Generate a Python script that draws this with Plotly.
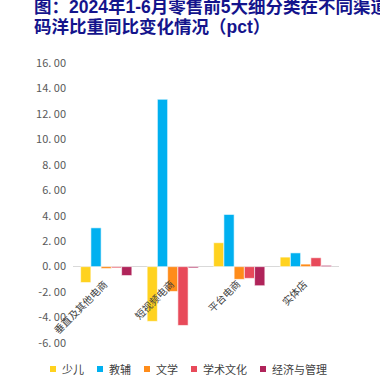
import plotly.graph_objects as go

categories = ["垂直及其他电商", "短视频电商", "平台电商", "实体店"]
series_names = ["少儿", "教辅", "文学", "学术文化", "经济与管理"]
series_colors = ["#FFD21F", "#00B0F0", "#FF8C1A", "#E84A5A", "#B0245A"]
values_shaoer = [-1.25, -4.30, 1.88, 0.75]
values_jiaofu = [3.05, 13.15, 4.10, 1.08]
values_wenxue = [-0.15, -1.95, -1.00, 0.20]
values_xueshu = [-0.10, -4.62, -0.92, 0.70]
values_jingji = [-0.70, -0.10, -1.50, 0.10]
series_values = [values_shaoer, values_jiaofu, values_wenxue, values_xueshu, values_jingji]
y_ticks = [16, 14, 12, 10, 8, 6, 4, 2, 0, -2, -4, -6]
title_lines = ["图：2024年1-6月零售前5大细分类在不同渠道", "码洋比重同比变化情况（pct）"]

W, H = 380, 384
L, R, T, B = 73, 41, 63, 41
PW, PH = W - L - R, H - T - B

fig = go.Figure()
for name, color, vals in zip(series_names, series_colors, series_values):
    fig.add_trace(go.Bar(
        x=categories, y=vals, name=name,
        marker=dict(color=color, line=dict(width=0.6, color="white")),
        showlegend=False,
    ))

def px_x(px):
    return (px - L) / PW

def px_y(py):
    return 1 - (py - T) / PH

annotations = []
shapes = []
# category labels next to the zero line
for c in categories:
    annotations.append(dict(
        x=c, y=0, xref="x", yref="y", text=c, showarrow=False,
        textangle=-45, xanchor="right", yanchor="top", xshift=7, yshift=-7,
        font=dict(family="Noto Sans CJK SC", size=10, color="#404040"),
    ))

# title
title_font = dict(family="Liberation Sans, Noto Sans CJK SC", size=17.5, color="#14148C")
annotations.append(dict(x=px_x(32), y=px_y(7), xref="paper", yref="paper",
                        text="<b>" + title_lines[0] + "</b>", showarrow=False,
                        xanchor="left", yanchor="middle", font=title_font))
annotations.append(dict(x=px_x(32), y=px_y(27), xref="paper", yref="paper",
                        text="<b>" + title_lines[1] + "</b>", showarrow=False,
                        xanchor="left", yanchor="middle", font=title_font))

# custom legend
leg_x = 50
leg_y = 369
for name, color in zip(series_names, series_colors):
    shapes.append(dict(type="rect", xref="paper", yref="paper",
                       x0=px_x(leg_x), x1=px_x(leg_x + 6),
                       y0=px_y(leg_y + 3), y1=px_y(leg_y - 3),
                       fillcolor=color, line=dict(width=0)))
    annotations.append(dict(x=px_x(leg_x + 10), y=px_y(leg_y), xref="paper", yref="paper",
                            text=name, showarrow=False, xanchor="left", yanchor="middle",
                            font=dict(family="Noto Sans CJK SC", size=11, color="#404040")))
    leg_x += 10 + 11 * len(name) + 15

fig.update_layout(
    width=W, height=H,
    margin=dict(l=L, r=R, t=T, b=B, pad=0),
    paper_bgcolor="white", plot_bgcolor="white",
    barmode="group", bargap=0.23, bargroupgap=0,
    showlegend=False,
    annotations=annotations, shapes=shapes,
    xaxis=dict(range=[-0.5, 3.5], autorange=False, showticklabels=False, showgrid=False,
               zeroline=False, showline=False, ticks="", automargin=False),
    yaxis=dict(range=[-6, 16], autorange=False, tickvals=y_ticks,
               ticktext=[f"{v:.2f}".replace(".", ".\u00a0") for v in y_ticks],
               showgrid=False, zeroline=True, zerolinecolor="#D9D9D9", zerolinewidth=1,
               showline=False, ticks="", ticklabelstandoff=6, automargin=False,
               tickfont=dict(family="Noto Sans CJK SC", size=11, color="#595959")),
)

fig.write_html("out.html", config={"displayModeBar": False},
               post_script="document.body.style.margin='0';")
